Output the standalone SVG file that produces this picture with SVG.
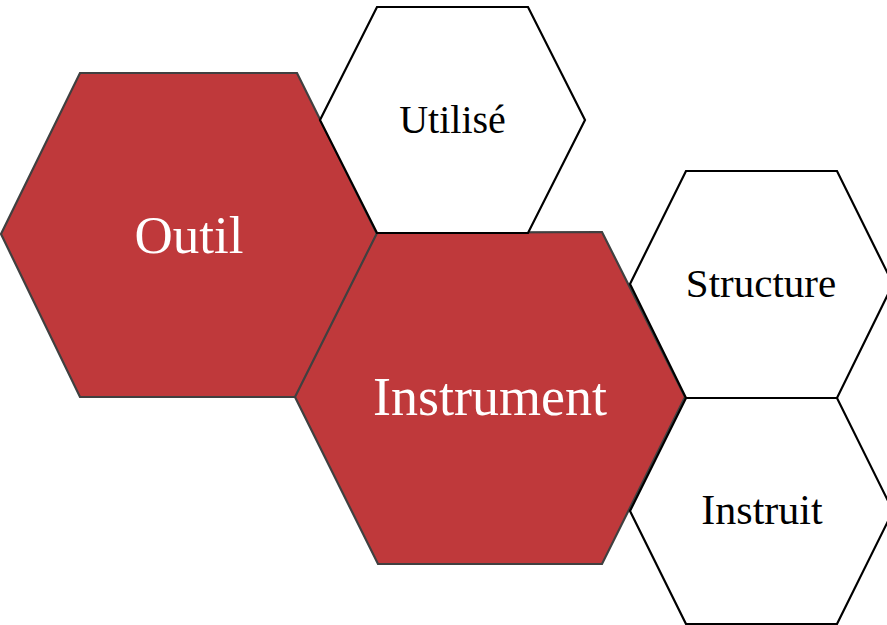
<svg xmlns="http://www.w3.org/2000/svg" width="887" height="625" viewBox="0 0 887 625">
<style>
.red{fill:#BF393B;stroke:#404040;stroke-width:2.2;stroke-linejoin:miter}
.white{fill:#FFFFFF;stroke:#000000;stroke-width:2.2;stroke-linejoin:miter}
.lbl{font-family:"Liberation Serif","DejaVu Serif",serif;text-anchor:middle}
.lw{fill:#FFFFFF}
.lb{fill:#000000}
</style>
<rect width="887" height="625" fill="#FFFFFF"/>
<g id="outil">
<polygon class="red" points="1,234 80,73 297,73 377,234 296,397 80,397"/>
<text class="lbl lw" x="189" y="253" font-size="53">Outil</text>
</g>
<g id="instrument">
<polygon class="red" points="295,397 377,233 602,232 685,397 602,564 378,564"/>
<text class="lbl lw" x="490" y="415" font-size="54">Instrument</text>
</g>
<g id="utilise">
<polygon class="white" points="320,120 377,7 528,7 585,120 528,233 377,233"/>
<text class="lbl lb" x="452.5" y="133" font-size="40">Utilisé</text>
</g>
<g id="structure">
<polygon class="white" points="630,284 686,171 837,171 893,284 837,398 686,398"/>
<text class="lbl lb" x="761" y="297" font-size="41">Structure</text>
</g>
<g id="instruit">
<polygon class="white" points="630,511 686,398 837,398 893,511 837,624 686,624"/>
<text class="lbl lb" x="762" y="524" font-size="42">Instruit</text>
</g>
<g id="connectors"/>
</svg>
